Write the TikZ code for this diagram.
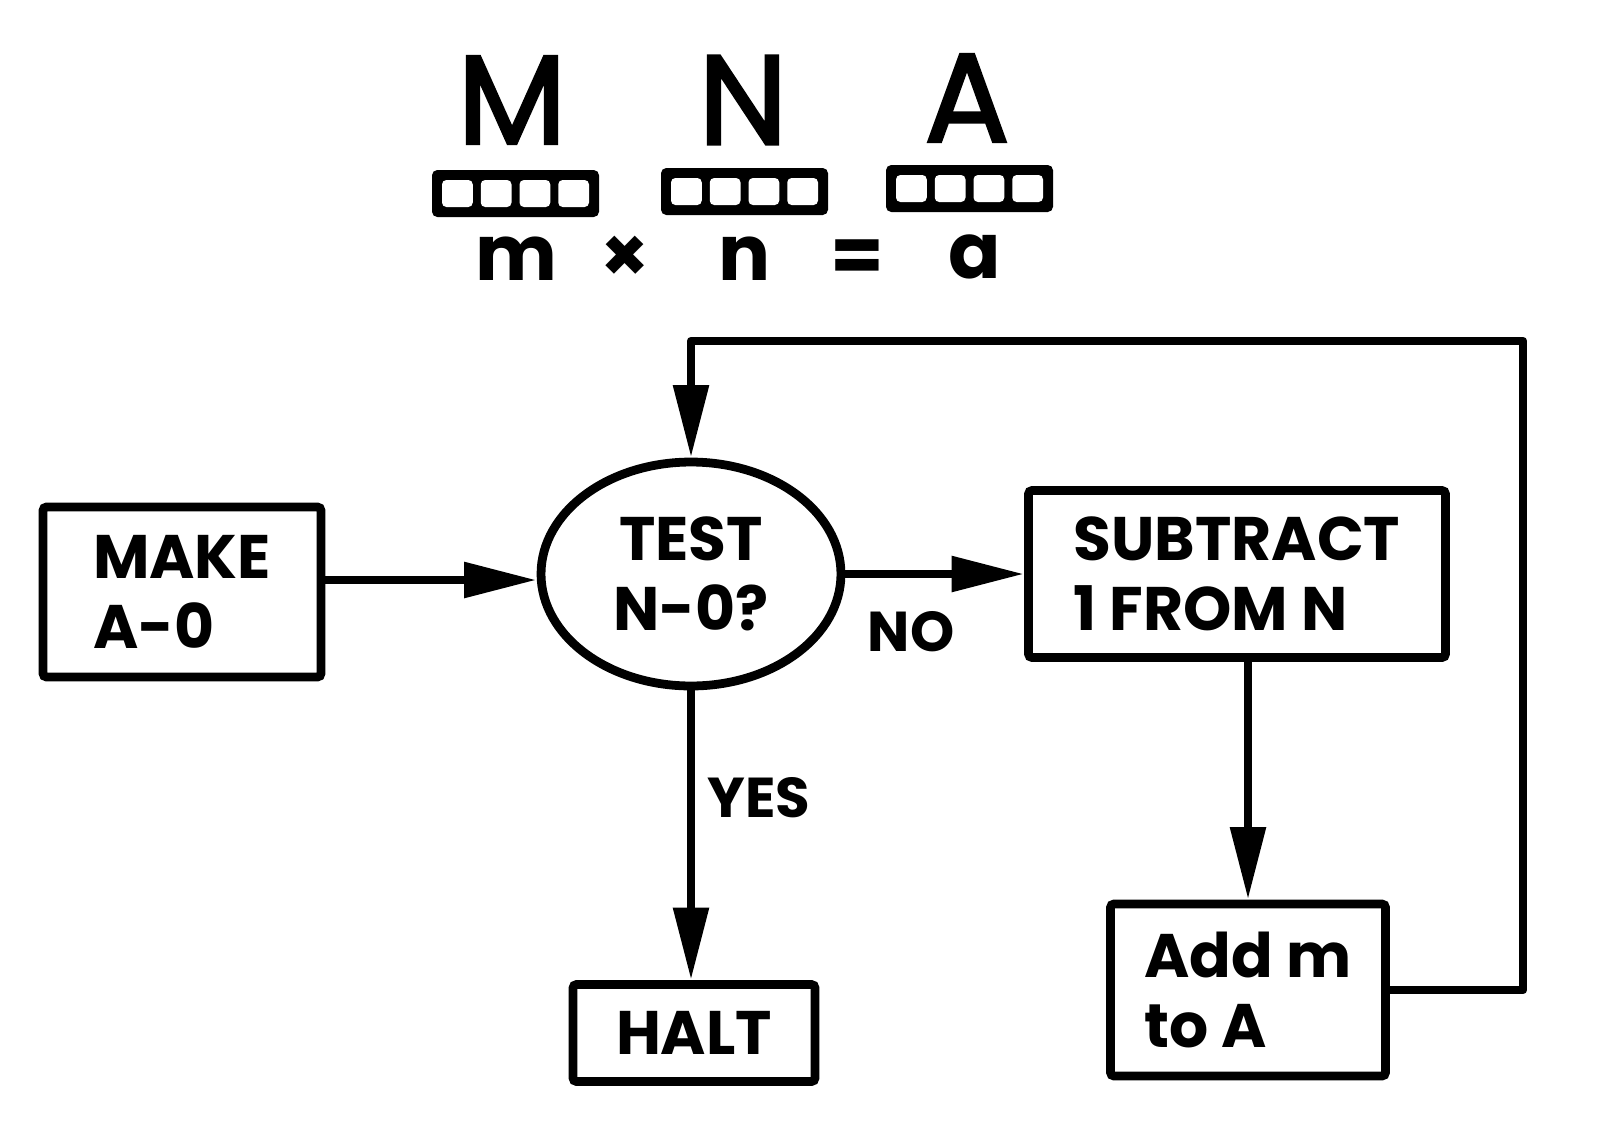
\documentclass[tikz,border=0pt]{standalone}
\usepackage{fontspec}
\setmainfont{Poppins}
\newfontfamily\popfb{Poppins}[FakeBold=2.2]
\usetikzlibrary{arrows.meta,shapes.geometric}
\newcommand\bxfont{\fontsize{35}{40}\selectfont\bfseries}
\begin{document}
\begin{tikzpicture}[x=0.02cm, y=-0.02cm,
  lw/.style={line width=5pt},
  box/.style={draw, lw, rectangle, rounded corners=2pt, inner sep=0pt, align=left, font=\bxfont},
  oval/.style={draw, lw, ellipse, inner sep=0pt, align=center, font=\bxfont},
  lbl/.style={inner sep=0pt, font=\fontsize{32}{36}\selectfont\bfseries},
  big/.style={inner sep=0pt, font=\popfb\fontsize{72}{72}\selectfont},
  small/.style={inner sep=0pt, font=\fontsize{44}{44}\selectfont\bfseries},
  arr/.style={lw, line join=round, -{Triangle[length=1.45cm, width=0.68cm]}},
  register/.pic={
    \fill[rounded corners=3pt] (0,0) rectangle (167,47);
    \foreach \i in {0,1,2,3}
      \fill[white, rounded corners=2.5pt] (10+\i*38.75,10) rectangle ++(30.75,27);
  }]
\fill[white] (0,0) rectangle (1619,1143);
\useasboundingbox (0,0) rectangle (1619,1143);

% top letters
\node[big] (bigM) at (512,100) {M};
\node[big] (bigN) at (743,100) {N};
\node[big] (bigA) at (967,98) {A};
\pic at (432,170) {register};
\pic at (661,168) {register};
\pic at (886,165) {register};
\node[small] (sm) at (516,259) {m};
\node[small] (sx) at (625,259) {×};
\node[small] (sn) at (745,259) {n};
\node[small] (se) at (857,261) {=};
\node[small] (sa) at (975,257) {a};

% flowchart nodes
\node[box, minimum width=5.56cm, minimum height=3.40cm] (make) at (182,592) {MAKE\\A-0};
\node[oval, minimum width=6.0cm, minimum height=4.48cm] (test) at (691,574) {TEST\\N-0?};
\node[box, minimum width=8.34cm, minimum height=3.34cm] (sub) at (1237,574) {SUBTRACT\\1 FROM N};
\node[box, minimum width=5.5cm, minimum height=3.44cm] (add) at (1248,990) {Add m\\to A};
\node[box, minimum width=4.84cm, minimum height=1.94cm] (halt) at (694,1033) {HALT};
\node[lbl] (no) at (911,632) {NO};
\node[lbl] (yes) at (759,798) {YES};
\coordinate (loopc) at (1523,341);
\coordinate (mk) at ([yshift=0.24cm]make.east);

% connectors
\draw[arr] (mk) -- (mk -| test.west);
\draw[arr] (test.east) -- (sub.west);
\draw[arr] (test.south) -- (test.south |- halt.north);
\draw[arr] (add.north |- sub.south) -- (add.north);
\draw[arr] (add.east) -| (loopc) -| (test.north);
\end{tikzpicture}
\end{document}
